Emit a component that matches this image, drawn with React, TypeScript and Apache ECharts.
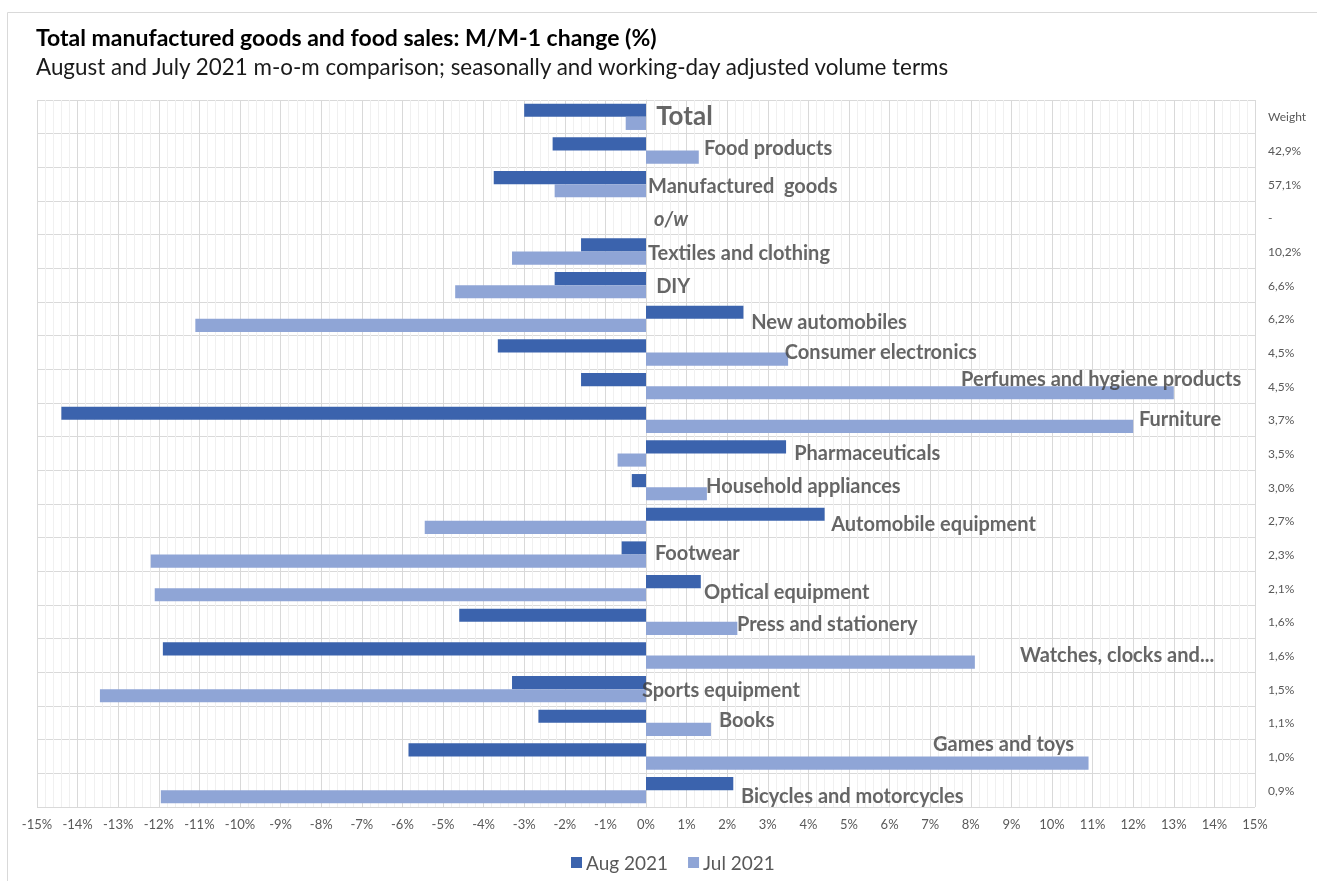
import React, { useEffect, useRef } from "react";
import * as echarts from "echarts";

const categories = [
  "Total",
  "Food products",
  "Manufactured  goods",
  "o/w",
  "Textiles and clothing",
  "DIY",
  "New automobiles",
  "Consumer electronics",
  "Perfumes and hygiene products",
  "Furniture",
  "Pharmaceuticals",
  "Household appliances",
  "Automobile equipment",
  "Footwear",
  "Optical equipment",
  "Press and stationery",
  "Watches, clocks and...",
  "Sports equipment",
  "Books",
  "Games and toys",
  "Bicycles and motorcycles",
];

const weights = [
  "Weight", "42,9%", "57,1%", "-", "10,2%", "6,6%", "6,2%", "4,5%", "4,5%", "3,7%",
  "3,5%", "3,0%", "2,7%", "2,3%", "2,1%", "1,6%", "1,6%", "1,5%", "1,1%", "1,0%", "0,9%",
];

const aug2021: (number | null)[] = [
  -3.0, -2.3, -3.75, null, -1.6, -2.25, 2.4, -3.65, -1.6, -14.4,
  3.45, -0.35, 4.4, -0.6, 1.35, -4.6, -11.9, -3.3, -2.65, -5.85, 2.15,
];

const jul2021: (number | null)[] = [
  -0.5, 1.3, -2.25, null, -3.3, -4.7, -11.1, 3.5, 13.0, 12.0,
  -0.7, 1.5, -5.45, -12.2, -12.1, 2.25, 8.1, -13.45, 1.6, 10.9, -11.95,
];

// label anchor (in % units on the x axis) and vertical shift (px)
const labelAnchor = [
  0.25, 1.43, 0.05, 0.2, 0.05, 0.25, 2.59, 3.42, 7.76, 12.14,
  3.65, 1.48, 4.56, 0.22, 1.43, 2.24, 9.21, -0.1, 1.8, 7.07, 2.34,
];
const labelShift = [
  -2, -4, 1, 0, 0, 0, 2, -2, -8, -2, -2, -2, 2, -3, 3, 1, -2, 0, -4, -14, 5,
];

const FONT = "Lato";

export default function App() {
  const ref = useRef<HTMLDivElement>(null);
  useEffect(() => {
    if (!ref.current) return;
    const chart = echarts.init(ref.current, undefined, { renderer: "svg" });
    const labelData = categories.map((c, i) => ({
      value: [labelAnchor[i], c],
      name: c,
      label: {
        offset: [0, labelShift[i]],
        fontSize: i === 0 ? 26 : 20,
        fontStyle: c === "o/w" ? "italic" : "normal",
      },
    }));
    chart.setOption({
      animation: false,
      textStyle: { fontFamily: FONT },
      graphic: [
        {
          type: "rect",
          shape: { x: 7.5, y: 12.5, width: 1400, height: 1000 },
          style: { fill: "none", stroke: "#D9D9D9", lineWidth: 1 },
          silent: true,
        },
        {
          type: "text",
          left: 36,
          top: 25,
          style: {
            text: "Total manufactured goods and food sales: M/M-1 change (%)",
            font: `bold 23px ${FONT}`,
            fill: "#000000",
          },
        },
        {
          type: "text",
          left: 36,
          top: 55,
          style: {
            text: "August and July 2021 m-o-m comparison; seasonally and working-day adjusted volume terms",
            font: `22.4px ${FONT}`,
            fill: "#1a1a1a",
          },
        },
      ],
      legend: {
        top: 848,
        left: 566,
        itemWidth: 11,
        itemHeight: 11,
        itemGap: 20,
        icon: "rect",
        textStyle: { color: "#595959", fontSize: 19, fontFamily: FONT, padding: [0, 0, 0, -1] },
        data: ["Aug 2021", "Jul 2021"],
      },
      grid: { left: 37, right: 62, top: 100, bottom: 74, containLabel: false },
      xAxis: {
        type: "value",
        min: -15,
        max: 15,
        interval: 1,
        axisLine: { show: false },
        axisTick: { show: false },
        axisLabel: {
          formatter: (v: number) => `${v}%`,
          color: "#595959",
          fontSize: 13,
          margin: 10,
          fontFamily: FONT,
        },
        splitLine: { show: true, lineStyle: { color: "#D9D9D9", width: 1 } },
        minorTick: { show: false, splitNumber: 5 },
        minorSplitLine: { show: true, lineStyle: { color: "#F0F0F0", width: 1 } },
      },
      yAxis: [
        {
          type: "category",
          data: categories,
          inverse: true,
          axisLine: { show: true, lineStyle: { color: "#D9D9D9" } },
          axisTick: { show: false },
          axisLabel: { show: false },
          splitLine: { show: true, lineStyle: { color: "#D9D9D9", width: 1 } },
        },
        {
          type: "category",
          data: weights,
          inverse: true,
          position: "right",
          axisLine: { show: false },
          axisTick: { show: false },
          axisLabel: {
            show: true,
            color: "#595959",
            fontSize: 12,
            align: "left",
            margin: 13,
            fontFamily: FONT,
          },
          splitLine: { show: false },
        },
      ],
      series: [
        {
          name: "Aug 2021",
          type: "bar",
          data: aug2021,
          barGap: "0%",
          barCategoryGap: "22%",
          itemStyle: { color: "#3B63AD" },
        },
        {
          name: "Jul 2021",
          type: "bar",
          data: jul2021,
          barGap: "0%",
          barCategoryGap: "22%",
          itemStyle: { color: "#8FA5D6" },
        },
        {
          name: "labels",
          type: "scatter",
          symbolSize: 0,
          silent: true,
          data: labelData,
          label: {
            show: true,
            position: "right",
            distance: 0,
            formatter: (p: any) => p.name,
            color: "#404040",
            fontWeight: "bold",
            fontFamily: FONT,
          },
          z: 10,
        },
      ],
    });
    return () => chart.dispose();
  }, []);
  return (
    <div
      ref={ref}
      style={{ position: "fixed", left: 0, top: 0, width: 1317, height: 881 }}
    />
  );
}
